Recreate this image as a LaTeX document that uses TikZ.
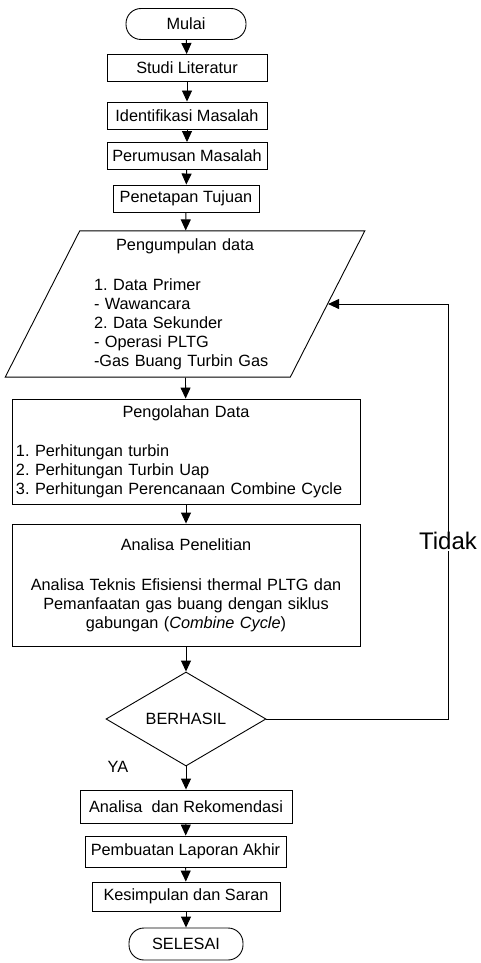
\documentclass[tikz,border=0pt]{standalone}
\usepackage{fontspec}
\setmainfont{Liberation Sans}
\usetikzlibrary{shapes.geometric,arrows.meta}
\frenchspacing
\tikzstyle{startstop} = [rectangle, rounded corners=15pt, minimum height=31pt, inner sep=0pt, draw=black, line width=0.9pt]
\tikzstyle{process} = [rectangle, minimum height=27pt, inner sep=0pt, draw=black, line width=0.9pt]
\tikzstyle{bigbox} = [rectangle, minimum width=348pt, inner sep=4pt, text width=340pt, draw=black, line width=0.9pt]
\tikzstyle{io} = [trapezium, trapezium left angle=63, trapezium right angle=117, inner xsep=14.3pt, inner ysep=7.5pt, text width=182pt, draw=black, line width=0.9pt]
\tikzstyle{decision} = [diamond, minimum width=160pt, minimum height=94pt, inner sep=0pt, draw=black, line width=0.9pt]
\tikzstyle{arrow} = [line width=0.9pt,-{Triangle[width=10pt,length=11pt]}]

\begin{document}
\begin{tikzpicture}[x=1pt,y=-1pt,every node/.style={font=\fontsize{16.3}{19}\selectfont}]
	\useasboundingbox (0,0) rectangle (480,963);

	\node (mulai) [startstop, minimum width=120pt] at (186,24) {Mulai};
	\node (studi) [process, minimum width=160pt] at (187,68) {Studi Literatur};
	\node (identifikasi) [process, minimum width=160pt] at (187,115.5) {Identifikasi Masalah};
	\node (perumusan) [process, minimum width=160pt] at (187,156) {Perumusan Masalah};
	\node (tujuan) [process, minimum width=146pt] at (186,198.5) {Penetapan Tujuan};

	\node (data) [io] at (185,304) {\makebox[182pt]{Pengumpulan data}\\[21pt]1. Data Primer\\- Wawancara\\2. Data Sekunder\\- Operasi PLTG\\-Gas Buang Turbin Gas};

	\node (olah) [bigbox, minimum height=105pt] at (186,451.5) {\makebox[340pt]{Pengolahan Data}\\[20pt]1. Perhitungan turbin\\2. Perhitungan Turbin Uap\\3. Perhitungan Perencanaan Combine Cycle};
	\node (analisa) [bigbox, minimum height=122pt, align=center] at (186,585) {Analisa Penelitian\\[21pt]Analisa Teknis Efisiensi thermal PLTG dan\\Pemanfaatan gas buang dengan siklus\\gabungan (\textit{Combine Cycle})};

	\node (cek) [decision] at (186,719) {BERHASIL};
	\node (ya) at (118,767) {YA};
	\coordinate (belok) at (448,719);

	\node (rekomendasi) [process, minimum width=212pt, minimum height=33pt] at (186,806.5) {Analisa\ \ dan Rekomendasi};
	\node (laporan) [process, minimum width=201pt, minimum height=31pt] at (185.5,851.5) {Pembuatan Laporan Akhir};
	\node (kesimpulan) [process, minimum width=188pt, minimum height=29pt] at (186,896.5) {Kesimpulan dan Saran};
	\node (selesai) [startstop, minimum width=114pt, minimum height=32pt] at (186,944) {SELESAI};

	\draw [arrow] (mulai) -- (studi);
	\draw [arrow] (studi) -- (identifikasi);
	\draw [arrow] (identifikasi) -- (perumusan);
	\draw [arrow] (perumusan) -- (tujuan);
	\draw [arrow] (tujuan) -- (data);
	\draw [arrow] (data) -- (olah);
	\draw [arrow] (olah) -- (analisa);
	\draw [arrow] (analisa) -- (cek);
	\draw [arrow] (cek) -- (rekomendasi);
	\draw [arrow] (rekomendasi) -- (laporan);
	\draw [arrow] (laporan) -- (kesimpulan);
	\draw [arrow] (kesimpulan) -- (selesai);
	\draw [arrow] (cek.east) -- (belok) |- (data.east) node [pos=0.214, fill=white, inner sep=1pt, font=\fontsize{24}{27}\selectfont] (tidak) {Tidak};

\end{tikzpicture}
\end{document}
